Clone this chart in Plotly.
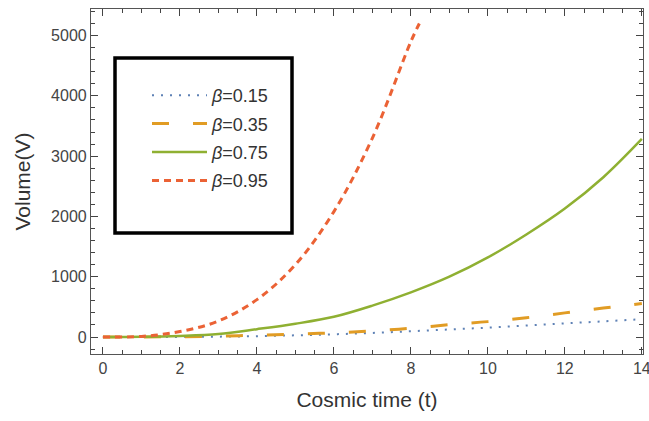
import plotly.graph_objects as go

# ---- data ----
t_all = [0, 1, 2, 3, 4, 5, 6, 7, 8, 9, 10, 11, 12, 13, 14]
v_b015 = [0, 0, 2, 6, 14, 28, 45, 68, 95, 125, 155, 190, 225, 260, 295]
v_b035 = [0, 1, 5, 15, 30, 47, 70, 100, 145, 205, 255, 320, 400, 480, 555]
v_b075 = [0, 3, 18, 50, 130, 220, 335, 520, 740, 1000, 1320, 1700, 2130, 2650, 3285]
t_b095 = [0, 1, 2, 3, 4, 5, 6, 7, 8, 8.22]
v_b095 = [0, 10, 90, 265, 620, 1200, 2080, 3300, 4900, 5200]

names = ["<i>\u03b2</i>=0.15", "<i>\u03b2</i>=0.35", "<i>\u03b2</i>=0.75", "<i>\u03b2</i>=0.95"]
colors = ["#5E81B5", "#E19C24", "#8FB032", "#EB6235"]

x_ticks = [0, 2, 4, 6, 8, 10, 12, 14]
y_ticks = [0, 1000, 2000, 3000, 4000, 5000]

fig = go.Figure()
series = [
    (t_all, v_b015, names[0], colors[0], dict(width=2, dash="2px,7px")),
    (t_all, v_b035, names[1], colors[1], dict(width=3, dash="17px,24px")),
    (t_all, v_b075, names[2], colors[2], dict(width=2.5)),
    (t_b095, v_b095, names[3], colors[3], dict(width=3, dash="7px,5px")),
]
for i, (x, y, nm, c, ln) in enumerate(series):
    fig.add_trace(go.Scatter(
        x=x, y=y, name=nm, mode="lines", line_shape="spline",
        line=dict(color=c, **ln), legendgroup=f"g{i}",
    ))

axis_common = dict(
    showline=True, linecolor="#555", linewidth=1.2, mirror="ticks",
    ticks="inside", ticklen=7, tickcolor="#444", tickwidth=1.2,
    showgrid=False, zeroline=False, automargin=False,
    ticklabeloverflow="allow",
    tickfont=dict(family="Liberation Sans, Arial", size=16, color="#444"),
    title_font=dict(family="Liberation Sans, Arial", size=21, color="#333"),
)

fig.update_xaxes(
    range=[-0.31, 14.03], tickvals=x_ticks,
    minor=dict(ticks="inside", dtick=0.5, tick0=0, ticklen=3.5, tickcolor="#444", tickwidth=1),
    title_text="Cosmic time (t)", title_standoff=16, **axis_common,
)
fig.update_yaxes(
    range=[-282, 5440], tickvals=y_ticks,
    minor=dict(ticks="inside", dtick=200, tick0=0, ticklen=3.5, tickcolor="#444", tickwidth=1),
    title_text="Volume(V)", title_standoff=14, **axis_common,
)

# legend frame
fig.add_shape(type="rect", xref="paper", yref="paper",
              x0=(115 - 91) / 552, x1=(292 - 91) / 552,
              y0=(354 - 233) / 345, y1=(354 - 58) / 345,
              line=dict(color="black", width=3.5), fillcolor="rgba(0,0,0,0)")

fig.update_layout(
    width=649, height=421,
    margin=dict(l=91, r=6, t=9, b=67),
    paper_bgcolor="white", plot_bgcolor="white",
    showlegend=True,
    legend=dict(
        x=(147 - 91) / 552, y=(354 - 77) / 345, xanchor="left", yanchor="top",
        bgcolor="rgba(0,0,0,0)", borderwidth=0, itemwidth=55, tracegroupgap=2,
        font=dict(family="Liberation Sans, Arial", size=18, color="#333"),
    ),
)

fig.write_html("out.html", config={"displayModeBar": False},
               post_script="document.body.style.margin='0';document.body.style.overflow='hidden';")
